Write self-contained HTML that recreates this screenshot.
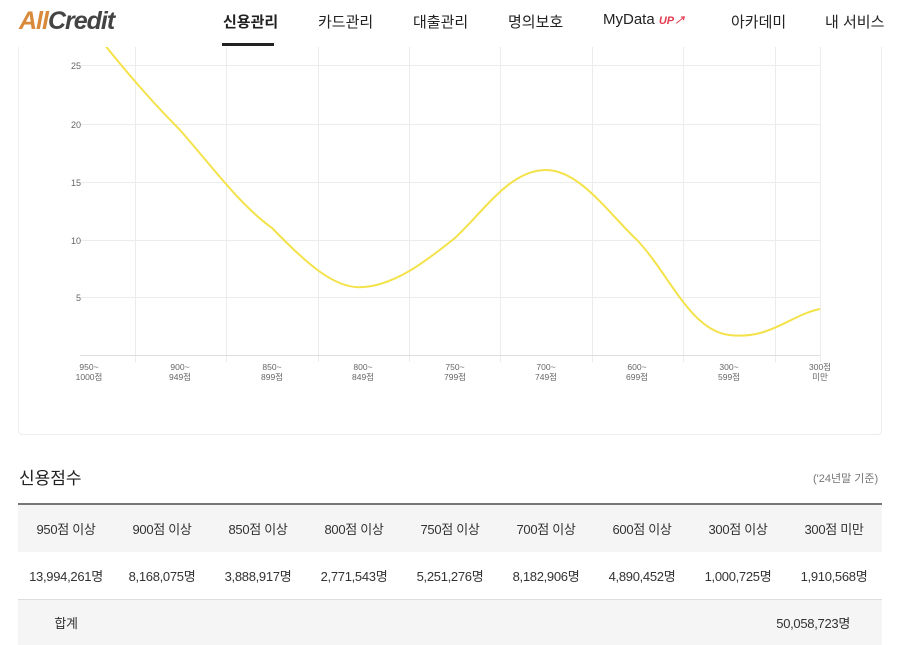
<!DOCTYPE html><html><head><meta charset="utf-8"><style>
*{margin:0;padding:0;box-sizing:border-box}
body{width:900px;height:642px;overflow:hidden;background:#fff;font-family:"Liberation Sans","Noto Sans CJK KR",sans-serif;position:relative;color:#222}
.hdr{position:absolute;left:0;top:0;width:900px;height:47px;background:#fff;z-index:2}
.logo{position:absolute;left:19px;top:7px;font-size:25px;font-weight:bold;font-style:italic;letter-spacing:-1px}
.nav{position:absolute;top:11px;font-size:15px;color:#222}
.card{position:absolute;left:18px;top:20px;width:864px;height:415px;border:1px solid #eee;border-radius:4px}
.t{position:absolute;font-size:13px;color:#333}
table{position:absolute;left:18px;top:503px;width:864px;border-collapse:collapse;border-top:2px solid #777;font-size:13px;color:#333;table-layout:fixed}
td{text-align:center;width:96px;white-space:nowrap;letter-spacing:-0.3px}
</style></head><body>
<div class="hdr">
<div class="logo"><span style="color:#d9893a">All</span><span style="color:#444">Credit</span></div>
<div class="nav" style="left:223px;font-weight:bold">신용관리</div>
<div style="position:absolute;left:222px;top:43px;width:52px;height:3px;background:#222"></div>
<div class="nav" style="left:318px">카드관리</div>
<div class="nav" style="left:413px">대출관리</div>
<div class="nav" style="left:508px">명의보호</div>
<div class="nav" style="left:603px">MyData <span style="color:#e23a4e;font-size:11px;font-weight:bold;font-style:italic">UP↗</span></div>
<div class="nav" style="left:731px">아카데미</div>
<div class="nav" style="left:825px">내 서비스</div>
</div>
<div class="card"></div>
<svg style="position:absolute;left:0;top:0" width="900" height="440">
<g stroke="#ececec" stroke-width="1">
<line x1="80" y1="65.5" x2="820" y2="65.5"/><line x1="80" y1="124.5" x2="820" y2="124.5"/><line x1="80" y1="182.5" x2="820" y2="182.5"/><line x1="80" y1="240.5" x2="820" y2="240.5"/><line x1="80" y1="297.5" x2="820" y2="297.5"/>
<line x1="135.5" y1="40" x2="135.5" y2="362"/><line x1="226.5" y1="40" x2="226.5" y2="362"/><line x1="318.5" y1="40" x2="318.5" y2="362"/><line x1="409.5" y1="40" x2="409.5" y2="362"/><line x1="500.5" y1="40" x2="500.5" y2="362"/><line x1="592.5" y1="40" x2="592.5" y2="362"/><line x1="683.5" y1="40" x2="683.5" y2="362"/><line x1="775.5" y1="40" x2="775.5" y2="362"/><line x1="820.5" y1="40" x2="820.5" y2="362"/>
</g>
<line x1="80" y1="355.5" x2="820" y2="355.5" stroke="#ddd"/>
<g font-size="9" fill="#666" text-anchor="end" font-family="Liberation Sans,sans-serif">
<text x="81" y="69">25</text><text x="81" y="128">20</text><text x="81" y="186">15</text><text x="81" y="244">10</text><text x="81" y="301">5</text></g>
<g font-size="8.5" fill="#666" text-anchor="middle" font-family="Liberation Sans,Noto Sans CJK KR,sans-serif">
<text x="89" y="370">950~</text><text x="89" y="380">1000점</text>
<text x="180" y="370">900~</text><text x="180" y="380">949점</text>
<text x="272" y="370">850~</text><text x="272" y="380">899점</text>
<text x="363" y="370">800~</text><text x="363" y="380">849점</text>
<text x="455" y="370">750~</text><text x="455" y="380">799점</text>
<text x="546" y="370">700~</text><text x="546" y="380">749점</text>
<text x="637" y="370">600~</text><text x="637" y="380">699점</text>
<text x="729" y="370">300~</text><text x="729" y="380">599점</text>
<text x="820" y="370">300점</text><text x="820" y="380">미만</text></g>
<path d="M89,25 C120,65 150,100 180,130 C215,170 240,205 272,228 C305,262 335,290 363,287 C395,285 425,262 455,238 C485,210 510,170 546,170 C580,170 610,215 637,240 C670,275 690,330 729,335 C770,340 790,315 820,309" fill="none" stroke="#f4e24a" stroke-width="2"/>
</svg>
<div class="t" style="left:19px;top:464px;font-size:17px;color:#222">신용점수</div>
<div class="t" style="left:813px;top:470px;font-size:11px;color:#777">('24년말 기준)</div>
<table>
<tr style="background:#f5f5f5;height:48px"><td>950점 이상</td><td>900점 이상</td><td>850점 이상</td><td>800점 이상</td><td>750점 이상</td><td>700점 이상</td><td>600점 이상</td><td>300점 이상</td><td>300점 미만</td></tr>
<tr style="height:47px;border-bottom:1px solid #ddd"><td>13,994,261명</td><td>8,168,075명</td><td>3,888,917명</td><td>2,771,543명</td><td>5,251,276명</td><td>8,182,906명</td><td>4,890,452명</td><td>1,000,725명</td><td>1,910,568명</td></tr>
<tr style="background:#f5f5f5;height:46px"><td>합계</td><td></td><td></td><td></td><td></td><td></td><td></td><td></td><td style="text-align:right;padding-right:32px;overflow:visible;direction:rtl">50,058,723명</td></tr>
</table>
</body></html>
